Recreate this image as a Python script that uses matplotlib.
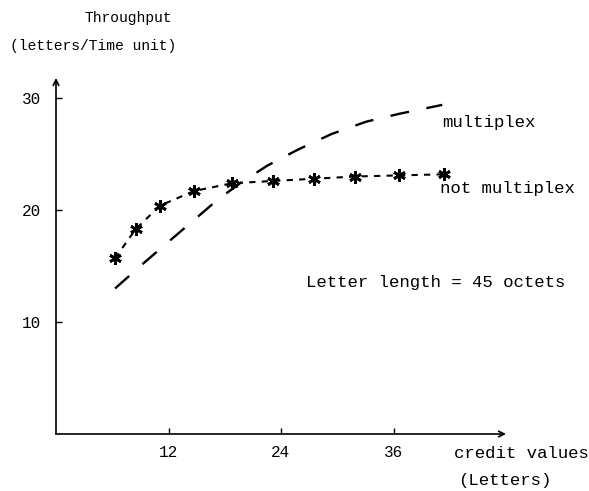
import matplotlib
matplotlib.use("Agg")
import matplotlib.pyplot as plt

# credit value (letters) -> throughput (letters / time unit)
credit_not_mux = [6.3, 8.5, 11.1, 14.7, 18.8, 23.1, 27.5, 31.9, 36.6, 41.4]
thr_not_mux = [15.7, 18.3, 20.4, 21.7, 22.4, 22.6, 22.8, 23.0, 23.1, 23.2]

credit_mux = [6.3, 9.4, 11.9, 14.7, 17.2, 19.8, 22.6, 25.8, 29.4, 33.1, 36.6, 41.2]
thr_mux = [13.0, 15.3, 17.1, 19.1, 20.9, 22.5, 24.0, 25.4, 26.8, 27.9, 28.6, 29.4]

x_ticks = [12, 24, 36]
y_ticks = [10, 20, 30]

FONT = "Liberation Mono"

fig = plt.figure(figsize=(5.89, 4.91), dpi=100)
ax = fig.add_axes([56 / 589, 57 / 491, 450 / 589, 356 / 491])
ax.set_xlim(0, 48)
ax.set_ylim(0, 31.8)

# curves
ax.plot(credit_mux, thr_mux, color="black", lw=1.7, dashes=(8, 7.5))
ax.plot(credit_not_mux, thr_not_mux, color="black", lw=1.5, dashes=(3, 3))
ax.plot(credit_not_mux, thr_not_mux, ls="none", marker=(6, 2, 0),
        ms=9, mew=2.0, color="black")

# axes with arrow heads
for s in ax.spines.values():
    s.set_visible(False)
ax.annotate("", xy=(1.0, 0), xytext=(0, 0), xycoords="axes fraction",
            arrowprops=dict(arrowstyle="->", lw=1.2, color="black",
                            shrinkA=0, shrinkB=0))
ax.annotate("", xy=(0, 1.0), xytext=(0, 0), xycoords="axes fraction",
            arrowprops=dict(arrowstyle="->", lw=1.2, color="black",
                            shrinkA=0, shrinkB=0))

ax.set_xticks(x_ticks)
ax.set_yticks(y_ticks)
ax.tick_params(direction="in", length=4, width=1, labelsize=11.5)
ax.tick_params(axis="x", pad=8)
ax.tick_params(axis="y", pad=11)
for lab in ax.get_xticklabels() + ax.get_yticklabels():
    lab.set_family(FONT)

# labels
fig.text(128 / 589, 1 - 18 / 491, "Throughput", family=FONT, fontsize=10.5,
         ha="center", va="center")
fig.text(93 / 589, 1 - 46 / 491, "(letters/Time unit)", family=FONT,
         fontsize=10.5, ha="center", va="center")
fig.text(454 / 589, 1 - 453 / 491, "credit values", family=FONT,
         fontsize=12.5, ha="left", va="center")
fig.text(505 / 589, 1 - 481 / 491, "(Letters)", family=FONT, fontsize=12.5,
         ha="center", va="center")
fig.text(442 / 589, 1 - 123 / 491, "multiplex", family=FONT, fontsize=12.5,
         ha="left", va="center")
fig.text(440 / 589, 1 - 189 / 491, "not multiplex", family=FONT,
         fontsize=12.5, ha="left", va="center")
fig.text(306 / 589, 1 - 283 / 491, "Letter length = 45 octets", family=FONT,
         fontsize=12.5, ha="left", va="center")

fig.savefig("out.png", dpi=100)
